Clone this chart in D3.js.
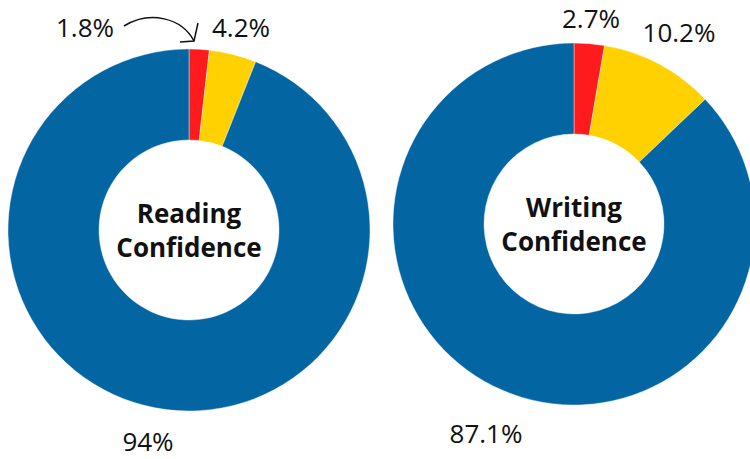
<!DOCTYPE html>
<html><head><meta charset="utf-8">
<script src="https://cdn.jsdelivr.net/npm/d3@7"></script>
<style>body{margin:0;background:#fff}svg{display:block}</style>
</head><body>
<script>
const categories = ["Not confident", "Somewhat confident", "Confident"];
const colors = ["#FF1A1E", "#FFD100", "#0366A3"];
const readingValues = [1.8, 4.2, 94];
const writingValues = [2.7, 10.2, 87.1];
const readingTitle = ["Reading", "Confidence"];
const writingTitle = ["Writing", "Confidence"];
const readingLabels = ["1.8%", "4.2%", "94%"];
const writingLabels = ["2.7%", "10.2%", "87.1%"];

const W = 750, H = 459;
const svg = d3.select("body").append("svg").attr("width", W).attr("height", H);

const pie = d3.pie().sort(null).value(d => d);
const arc = d3.arc().innerRadius(90).outerRadius(181);
const color = d3.scaleOrdinal().domain(categories).range(colors);

function donut(cx, cy, values, title, labels, labelPos) {
  const g = svg.append("g").attr("transform", `translate(${cx},${cy})`);
  g.selectAll("path").data(pie(values)).join("path")
    .attr("d", arc)
    .attr("fill", (d, i) => color(categories[i]))
    .attr("stroke", "#fff").attr("stroke-width", 0.4);
  const t = g.append("text").attr("text-anchor", "middle")
    .attr("font-family", "'Open Sans', sans-serif").attr("font-weight", 700)
    .attr("font-size", 26).attr("fill", "#111");
  t.append("tspan").attr("x", 0).attr("y", title.offset[0]).text(title.lines[0]);
  t.append("tspan").attr("x", 0).attr("y", title.offset[1]).text(title.lines[1]);
  labels.forEach((l, i) => {
    svg.append("text").attr("x", labelPos[i][0]).attr("y", labelPos[i][1])
      .attr("text-anchor", "middle")
      .attr("font-family", "'Open Sans', sans-serif").attr("font-size", 26)
      .attr("fill", "#111").text(l);
  });
}

donut(189, 230, readingValues, {lines: readingTitle, offset: [-7, 27]}, readingLabels,
  [[85, 37], [241, 37], [148, 451]]);
donut(574, 224, writingValues, {lines: writingTitle, offset: [-7, 27]}, writingLabels,
  [[591, 28], [679, 42], [486, 443]]);

// curved arrow from 1.8% label to the red slice
svg.append("path")
  .attr("d", "M124,26 C150,10 182,18 194,41")
  .attr("fill", "none").attr("stroke", "#111").attr("stroke-width", 1.5);
svg.append("path")
  .attr("d", "M180,42 L194,41 L198,23")
  .attr("fill", "none").attr("stroke", "#111").attr("stroke-width", 1.5);
</script>
</body></html>
